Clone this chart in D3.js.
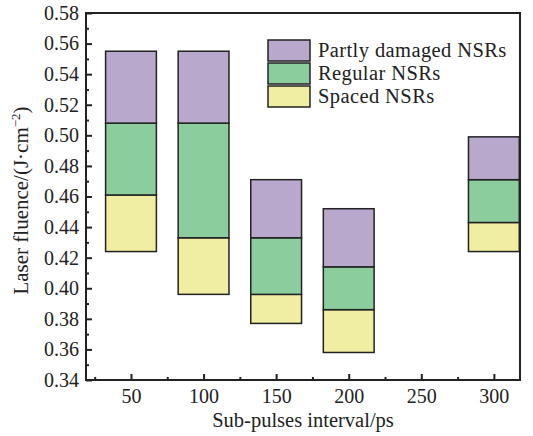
<!DOCTYPE html>
<html>
<head>
<meta charset="utf-8">
<script src="https://cdn.jsdelivr.net/npm/d3@7.9.0/dist/d3.min.js"></script>
<style>
  body { margin: 0; background: #fff; }
  text { font-family: "Liberation Serif", "Times New Roman", serif; fill: #222; }
</style>
</head>
<body>
<svg id="chart" width="533" height="436"></svg>
<script>
// data
const intervals = [50, 100, 150, 200, 300];
const spacedLow = [0.424, 0.396, 0.377, 0.358, 0.424];
const spacedHigh = [0.461, 0.433, 0.396, 0.386, 0.443];
const regularHigh = [0.508, 0.508, 0.433, 0.414, 0.471];
const damagedHigh = [0.555, 0.555, 0.471, 0.452, 0.499];
const xTicks = [50, 100, 150, 200, 250, 300];
const yTicks = [0.34, 0.36, 0.38, 0.40, 0.42, 0.44, 0.46, 0.48, 0.50, 0.52, 0.54, 0.56, 0.58];
const seriesNames = ['Partly damaged NSRs', 'Regular NSRs', 'Spaced NSRs'];
const seriesColors = ['#b7a8cc', '#8ccd9d', '#f0eea2'];

const svg = d3.select('#chart');
const plotL = 86, plotR = 520, plotT = 13, plotB = 380;

const x = d3.scaleLinear().domain([19, 318]).range([plotL, plotR]);
const y = d3.scaleLinear().domain([0.34, 0.58]).range([plotB, plotT]);
const barW = x(35) - x(0);

// segments per bar: [low, high, colour]
const segments = [];
intervals.forEach((d, i) => {
  segments.push({ x: d, lo: spacedLow[i], hi: spacedHigh[i], c: seriesColors[2] });
  segments.push({ x: d, lo: spacedHigh[i], hi: regularHigh[i], c: seriesColors[1] });
  segments.push({ x: d, lo: regularHigh[i], hi: damagedHigh[i], c: seriesColors[0] });
});

svg.append('g').selectAll('rect')
  .data(segments)
  .join('rect')
  .attr('x', d => x(d.x) - barW / 2)
  .attr('width', barW)
  .attr('y', d => y(d.hi))
  .attr('height', d => y(d.lo) - y(d.hi))
  .attr('fill', d => d.c)
  .attr('stroke', '#222')
  .attr('stroke-width', 1.5);

// axes with inward ticks
svg.append('g').attr('transform', `translate(${plotL},0)`)
  .call(d3.axisLeft(y).tickValues(yTicks).tickFormat(d3.format('.2f')).tickSizeInner(-6).tickSizeOuter(0).tickPadding(7));
const yMinor = d3.range(0.35, 0.58, 0.02);
svg.append('g').attr('transform', `translate(${plotL},0)`)
  .call(d3.axisLeft(y).tickValues(yMinor).tickSizeInner(-3).tickSizeOuter(0).tickFormat(''));

svg.append('g').attr('transform', `translate(0,${plotB})`)
  .call(d3.axisBottom(x).tickValues(xTicks).tickSizeInner(-6).tickSizeOuter(0).tickPadding(9));
svg.append('g').attr('transform', `translate(0,${plotB})`)
  .call(d3.axisBottom(x).tickValues([25, 75, 125, 175, 225, 275]).tickSizeInner(-3).tickSizeOuter(0).tickFormat(''));

svg.selectAll('.tick line').attr('stroke', '#222').attr('stroke-width', 2);
svg.selectAll('.domain').remove();
svg.selectAll('.tick text').attr('font-size', 20).attr('fill', '#222');

// frame
svg.append('rect')
  .attr('x', plotL).attr('y', plotT)
  .attr('width', plotR - plotL).attr('height', plotB - plotT)
  .attr('fill', 'none').attr('stroke', '#222').attr('stroke-width', 2);

// titles
svg.append('text')
  .attr('x', 303).attr('y', 427)
  .attr('text-anchor', 'middle').attr('font-size', 20.5)
  .text('Sub-pulses interval/ps');

const yt = svg.append('text')
  .attr('transform', `translate(28,${(plotT + plotB) / 2 + 4}) rotate(-90)`)
  .attr('text-anchor', 'middle').attr('font-size', 21);
yt.append('tspan').text('Laser fluence/(J·cm');
yt.append('tspan').attr('dy', -8).attr('font-size', 13).text('−2');
yt.append('tspan').attr('dy', 8).text(')');

// legend
const legend = svg.append('g').attr('transform', 'translate(268,40)');
seriesNames.forEach((name, i) => {
  legend.append('rect')
    .attr('x', 0).attr('y', i * 23)
    .attr('width', 42).attr('height', 21)
    .attr('fill', seriesColors[i]).attr('stroke', '#222').attr('stroke-width', 1.5);
  legend.append('text')
    .attr('x', 50).attr('y', i * 23 + 17)
    .attr('font-size', 20.5)
    .attr('letter-spacing', 0.4)
    .text(name);
});
</script>
</body>
</html>
